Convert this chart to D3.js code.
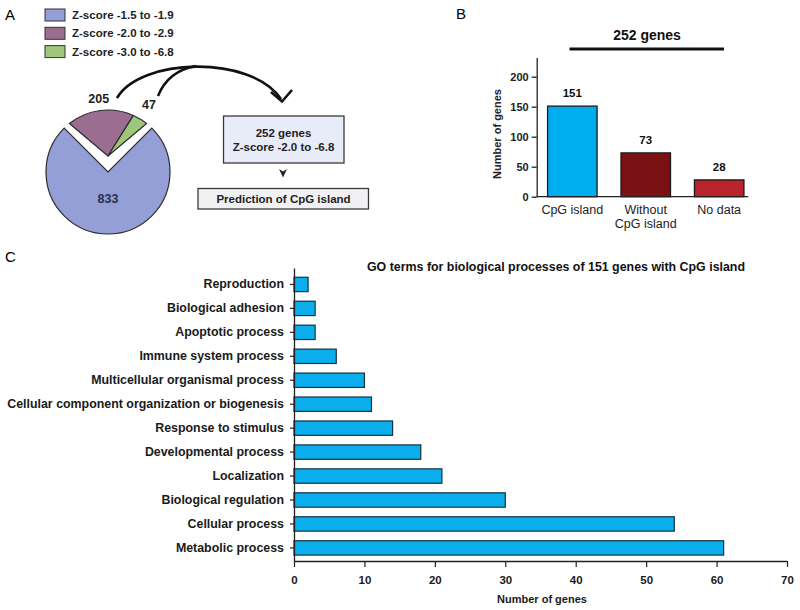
<!DOCTYPE html>
<html><head><meta charset="utf-8">
<script src="https://cdn.jsdelivr.net/npm/d3@7"></script>
<style>
body{margin:0;background:#fff;}
svg{display:block;font-family:"Liberation Sans",Arial,sans-serif;}
.b{font-weight:bold;}
</style></head><body>
<svg id="c" width="800" height="610"></svg>
<script>
// ---- Data ----
const pieLabels = ["Z-score -1.5 to -1.9", "Z-score -2.0 to -2.9", "Z-score -3.0 to -6.8"];
const pieValues = [833, 205, 47];
const pieColors = ["#959fd7", "#9b6d91", "#9fc77c"];

const cpgCategories = [["CpG island"], ["Without", "CpG island"], ["No data"]];
const cpgValues = [151, 73, 28];
const cpgColors = ["#00aeef", "#7a1214", "#b8242b"];
const cpgTicks = [0, 50, 100, 150, 200];

const goTerms = ["Reproduction", "Biological adhesion", "Apoptotic process", "Immune system process",
  "Multicellular organismal process", "Cellular component organization or biogenesis",
  "Response to stimulus", "Developmental process", "Localization", "Biological regulation",
  "Cellular process", "Metabolic process"];
const goValues = [2, 3, 3, 6, 10, 11, 14, 18, 21, 30, 54, 61];
const goTicks = [0, 10, 20, 30, 40, 50, 60, 70];

const svg = d3.select("#c");

// Panel letters
svg.append("text").attr("x", 5).attr("y", 20).attr("font-size", 15).text("A");
svg.append("text").attr("x", 456).attr("y", 19).attr("font-size", 15).text("B");
svg.append("text").attr("x", 5).attr("y", 262).attr("font-size", 15).text("C");

// ---------------- Panel A ----------------
const gA = svg.append("g");
// legend
const leg = gA.selectAll("g.leg").data(pieLabels).join("g")
  .attr("transform", (d, i) => `translate(45,${9 + i * 18.3})`);
leg.append("rect").attr("width", 20).attr("height", 12)
  .attr("fill", (d, i) => pieColors[i]).attr("stroke", "#333").attr("stroke-width", 1);
leg.append("text").attr("class", "b").attr("x", 27).attr("y", 6).attr("dy", "0.36em")
  .attr("font-size", 11.5).attr("fill", "#222").text(d => d);

// pie
const deg = Math.PI / 180;
const cx = 108, cy = 172, r = 62, lift = 16, gapBlue = 3.2 * deg, gapExp = 3.3 * deg;
const order = [1, 2, 0];
const explodedShare = (pieValues[1] + pieValues[2]) / d3.sum(pieValues);
const startA = -explodedShare * Math.PI;  // centre the exploded wedge at 12 o'clock
const pie = d3.pie().sort(null).startAngle(startA).endAngle(startA + 2 * Math.PI);
const arcsAll = pie(order.map(i => pieValues[i]));
const blue = arcsAll[2];
const arcGen = d3.arc().innerRadius(0).outerRadius(r);
gA.append("path").attr("transform", `translate(${cx},${cy})`)
  .attr("d", arcGen({startAngle: blue.startAngle + gapBlue, endAngle: blue.endAngle - gapBlue}))
  .attr("fill", pieColors[0]).attr("stroke", "#2a2a2a").attr("stroke-width", 1.2);

// exploded slices (sub-pie over the remaining span)
const subPie = d3.pie().sort(null).startAngle(arcsAll[0].startAngle + gapExp).endAngle(arcsAll[1].endAngle - gapExp);
const subArcs = subPie([pieValues[1], pieValues[2]]);
const P = a => [cx + r * Math.sin(a), cy - r * Math.cos(a)];
subArcs.forEach((s, k) => {
  const p = d3.path();
  const a = P(s.startAngle);
  p.moveTo(cx, cy - lift); p.lineTo(a[0], a[1]);
  p.arc(cx, cy, r, s.startAngle - Math.PI / 2, s.endAngle - Math.PI / 2, false);
  p.closePath();
  gA.append("path").attr("d", p.toString()).attr("fill", pieColors[k + 1])
    .attr("stroke", "#2a2a2a").attr("stroke-width", 1.2);
  const m = (s.startAngle + s.endAngle) / 2, lr = k === 0 ? 74 : 79;
  gA.append("text").attr("class", "b").attr("text-anchor", "middle").attr("dy", "0.36em")
    .attr("x", cx + lr * Math.sin(m)).attr("y", cy - lr * Math.cos(m))
    .attr("font-size", 12.5).attr("fill", "#222").text(s.data);
});
const bm = (blue.startAngle + blue.endAngle) / 2;
gA.append("text").attr("class", "b").attr("text-anchor", "middle").attr("dy", "0.36em")
  .attr("x", cx + 26 * Math.sin(bm)).attr("y", cy - 26 * Math.cos(bm))
  .attr("font-size", 12.5).attr("fill", "#2a2f4a").text(blue.data);

// arrows
gA.append("path").attr("d", "M117,98 C140,58 250,54 281,99")
  .attr("fill", "none").attr("stroke", "#111").attr("stroke-width", 2.6);
gA.append("path").attr("d", "M158,96 Q168,71 196,66")
  .attr("fill", "none").attr("stroke", "#111").attr("stroke-width", 2.6);
gA.append("path").attr("d", "M271,92 L282,101.5 L292,90")
  .attr("fill", "none").attr("stroke", "#111").attr("stroke-width", 2.6).attr("stroke-linejoin", "miter");

// boxes
gA.append("rect").attr("x", 223.5).attr("y", 116).attr("width", 120.5).attr("height", 47)
  .attr("fill", "#e8ebf8").attr("stroke", "#3a3a3a").attr("stroke-width", 1.3);
gA.append("text").attr("class", "b").attr("text-anchor", "middle").attr("x", 283.5).attr("y", 132.5)
  .attr("dy", "0.36em").attr("font-size", 11.5).attr("fill", "#222").text("252 genes");
gA.append("text").attr("class", "b").attr("text-anchor", "middle").attr("x", 283.5).attr("y", 147)
  .attr("dy", "0.36em").attr("font-size", 11.5).attr("fill", "#222").text("Z-score -2.0 to -6.8");
gA.append("path").attr("d", "M279,169 L283,177.5 L287,169 L283,171.5 Z").attr("fill", "#222");
gA.append("rect").attr("x", 198).attr("y", 188.5).attr("width", 170.5).attr("height", 20.5)
  .attr("fill", "#f1f1f3").attr("stroke", "#3a3a3a").attr("stroke-width", 1.3);
gA.append("text").attr("class", "b").attr("text-anchor", "middle").attr("x", 283.5).attr("y", 199)
  .attr("dy", "0.36em").attr("font-size", 11.5).attr("fill", "#222").text("Prediction of CpG island");

// ---------------- Panel B ----------------
const gB = svg.append("g");
const yB = d3.scaleLinear().domain([0, 232]).range([196.7, 57.5]);
const xB = d3.scaleBand().domain(d3.range(cpgValues.length)).range([536.7, 754.8])
  .paddingInner(0.326).paddingOuter(0.148);
gB.append("text").attr("class", "b").attr("text-anchor", "middle").attr("x", 647).attr("y", 35)
  .attr("dy", "0.36em").attr("font-size", 14).attr("fill", "#111").text("252 genes");
gB.append("line").attr("x1", 569.5).attr("x2", 724).attr("y1", 49).attr("y2", 49)
  .attr("stroke", "#111").attr("stroke-width", 3);
gB.selectAll("rect.bar").data(cpgValues).join("rect").attr("class", "bar")
  .attr("x", (d, i) => xB(i)).attr("width", xB.bandwidth())
  .attr("y", d => yB(d)).attr("height", d => yB(0) - yB(d))
  .attr("fill", (d, i) => cpgColors[i]).attr("stroke", "#1a1a1a").attr("stroke-width", 1.3);
gB.selectAll("text.val").data(cpgValues).join("text").attr("class", "val b")
  .attr("text-anchor", "middle").attr("x", (d, i) => xB(i) + xB.bandwidth() / 2)
  .attr("y", d => yB(d) - 13).attr("dy", "0.36em").attr("font-size", 11.5).attr("fill", "#111").text(d => d);
const yAxB = gB.append("g").attr("transform", "translate(536.7,0)")
  .call(d3.axisLeft(yB).tickValues(cpgTicks).tickSize(5).tickSizeOuter(0).tickPadding(3));
yAxB.select(".domain").attr("stroke", "#222").attr("stroke-width", 1.3);
yAxB.selectAll(".tick line").attr("stroke", "#222").attr("stroke-width", 1.3);
yAxB.selectAll(".tick text").attr("class", "b").attr("font-size", 11).attr("fill", "#222")
  .style("font-family", '"Liberation Sans",Arial,sans-serif');
gB.append("line").attr("x1", 536.7).attr("x2", 748.3).attr("y1", yB(0)).attr("y2", yB(0))
  .attr("stroke", "#222").attr("stroke-width", 1.3);
gB.selectAll("text.cat").data(cpgCategories).join("text").attr("class", "cat")
  .attr("text-anchor", "middle").attr("font-size", 12.5).attr("fill", "#222")
  .each(function (d, i) {
    d3.select(this).selectAll("tspan").data(d).join("tspan")
      .attr("x", xB(i) + xB.bandwidth() / 2).attr("y", (t, j) => 209.5 + j * 14).attr("dy", "0.36em").text(t => t);
  });
gB.append("text").attr("class", "b").attr("text-anchor", "middle")
  .attr("transform", "translate(497.5,134) rotate(-90)").attr("dy", "0.36em")
  .attr("font-size", 11).attr("fill", "#222").text("Number of genes");

// ---------------- Panel C ----------------
const gC = svg.append("g");
const xC = d3.scaleLinear().domain([0, 70]).range([294, 787]);
const yC = d3.scaleBand().domain(goTerms).range([268, 561])
  .paddingInner(0.4).paddingOuter(0.317).align(0.61);
gC.append("text").attr("class", "b").attr("text-anchor", "middle").attr("x", 556).attr("y", 267)
  .attr("dy", "0.36em").attr("font-size", 12.4).attr("fill", "#111")
  .text("GO terms for biological processes of 151 genes with CpG island");
gC.selectAll("rect.bar").data(goValues).join("rect").attr("class", "bar")
  .attr("x", xC(0)).attr("y", (d, i) => yC(goTerms[i])).attr("height", yC.bandwidth())
  .attr("width", d => xC(d) - xC(0))
  .attr("fill", "#0aaeec").attr("stroke", "#17323f").attr("stroke-width", 1.2);
const yAxC = gC.append("g").attr("transform", `translate(${xC(0)},0)`)
  .call(d3.axisLeft(yC).tickSize(4).tickSizeOuter(0).tickPadding(6));
yAxC.select(".domain").attr("stroke", "#222").attr("stroke-width", 1.3);
yAxC.selectAll(".tick line").attr("stroke", "#222").attr("stroke-width", 1.2);
yAxC.selectAll(".tick text").attr("class", "b").attr("font-size", 12.4).attr("fill", "#1a1a1a")
  .style("font-family", '"Liberation Sans",Arial,sans-serif');
const xAxC = gC.append("g").attr("transform", "translate(0,561)")
  .call(d3.axisBottom(xC).tickValues(goTicks).tickSize(6).tickSizeOuter(0).tickPadding(9));
xAxC.select(".domain").attr("stroke", "#222").attr("stroke-width", 1.3);
xAxC.selectAll(".tick line").attr("stroke", "#222").attr("stroke-width", 1.2);
xAxC.selectAll(".tick text").attr("class", "b").attr("font-size", 11.5).attr("fill", "#1a1a1a")
  .style("font-family", '"Liberation Sans",Arial,sans-serif');
gC.append("text").attr("class", "b").attr("text-anchor", "middle").attr("x", 542).attr("y", 599)
  .attr("dy", "0.36em").attr("font-size", 11).attr("fill", "#1a1a1a").text("Number of genes");
</script></body></html>
